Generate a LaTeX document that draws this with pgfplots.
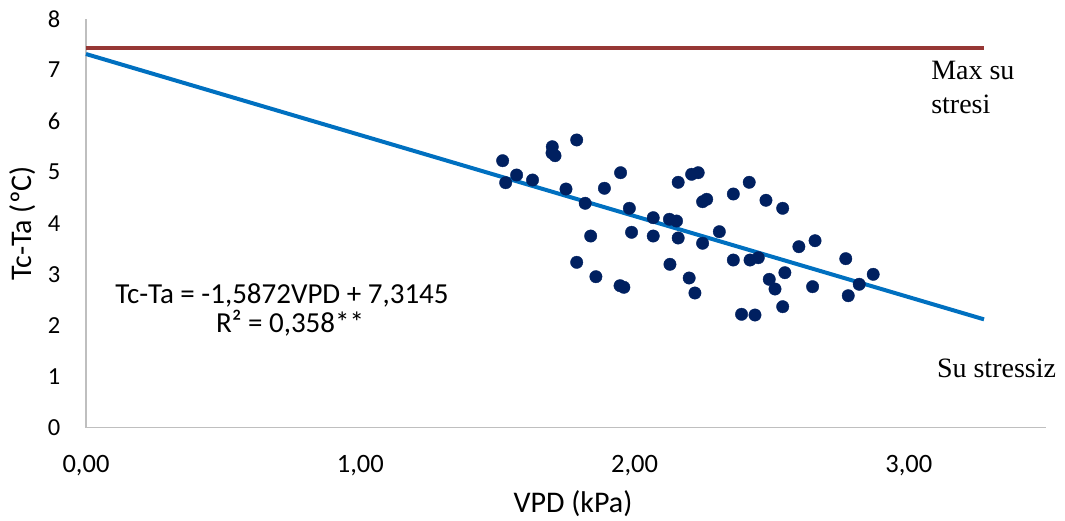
\documentclass[border=0pt]{standalone}
\usepackage{pgfplots}
\pgfplotsset{compat=1.18}
\usepackage{pgfplotstable}
\usepackage{fontspec}
\setmainfont{Carlito}
\newfontfamily\tnr{Liberation Serif}

\definecolor{dotnavy}{RGB}{0,32,96}
\definecolor{trendblue}{RGB}{0,112,192}
\definecolor{maxred}{RGB}{150,55,53}
\definecolor{axgray}{RGB}{191,191,191}

% canopy-air temperature difference against vapour pressure deficit
\pgfplotstableread{
vpd   dt
1.519 5.225
1.570 4.945
1.530 4.794
1.628 4.847
1.700 5.499
1.699 5.376
1.710 5.323
1.789 5.631
1.750 4.670
1.820 4.391
1.890 4.685
1.949 4.990
1.981 4.293
1.840 3.750
1.989 3.823
1.789 3.235
1.859 2.953
1.947 2.777
1.961 2.746
2.068 4.109
2.068 3.750
2.127 4.078
2.153 4.044
2.159 4.802
2.159 3.711
2.129 3.196
2.199 2.928
2.220 2.634
2.208 4.959
2.232 4.990
2.248 4.422
2.263 4.469
2.248 3.608
2.309 3.835
2.360 4.573
2.418 4.802
2.479 4.450
2.540 4.293
2.360 3.280
2.421 3.280
2.451 3.325
2.491 2.902
2.512 2.712
2.548 3.032
2.540 2.366
2.390 2.217
2.439 2.203
2.599 3.541
2.658 3.658
2.649 2.758
2.770 3.306
2.779 2.581
2.819 2.805
2.870 3.000
}\obsdata

% upper (non-transpiring) baseline and fitted lower baseline
\pgfplotstableread{
vpd   dt
0     7.43
3.274 7.43
}\maxline
\pgfplotstableread{
vpd   dt
0     7.3145
3.274 2.1180
}\fitline

\begin{document}
\begin{tikzpicture}
\begin{axis}[
  name=ax,
  scale only axis,
  width=960bp, height=408.5bp,
  xmin=0, xmax=3.5, ymin=0, ymax=8,
  xtick={0,1,2,3}, ytick={0,1,...,8},
  axis x line*=bottom, axis y line*=left,
  axis line style={axgray, line width=1.3bp},
  major tick length=0pt,
  clip=false,
  /pgf/number format/assume math mode=true,
  xticklabel style={/pgf/number format/fixed,
    /pgf/number format/fixed zerofill,
    /pgf/number format/precision=2,
    /pgf/number format/use comma,
    font=\fontsize{26.5bp}{30bp}\selectfont,
    anchor=base, yshift=-44.5bp},
  yticklabel style={font=\fontsize{24.5bp}{28bp}\selectfont,
    anchor=east, inner sep=0pt, xshift=-25.5bp},
  every axis x label/.style={at={(axis description cs:0.5,0)},
    anchor=base, yshift=-84.5bp, xshift=7bp,
    font=\fontsize{30bp}{36bp}\selectfont},
  every axis y label/.style={at={(axis description cs:0,0.5)},
    xshift=-54bp, rotate=90, anchor=base,
    font=\fontsize{30bp}{36bp}\selectfont},
  xlabel={VPD (kPa)},
  ylabel={Tc-Ta (ºC)},
]
\addplot[only marks, mark=*, mark size=6.2bp,
  mark options={fill=dotnavy, draw=dotnavy}] table[x=vpd, y=dt] {\obsdata};
\addplot[maxred, line width=4bp] table[x=vpd, y=dt] {\maxline};
\addplot[trendblue, line width=4bp] table[x=vpd, y=dt] {\fitline};

\node[anchor=base, font=\fontsize{29bp}{34bp}\selectfont]
  at (axis cs:0.7146,2.438) {Tc-Ta = -1,5872VPD + 7,3145};
\node[anchor=base, font=\fontsize{29bp}{34bp}\selectfont]
  at (axis cs:0.7437,1.851) {R² = 0,358**};

\node[anchor=base west, inner sep=0pt, font=\tnr\fontsize{28bp}{33bp}\selectfont]
  at (axis cs:3.081,6.806) {Max su};
\node[anchor=base west, inner sep=0pt, font=\tnr\fontsize{28bp}{33bp}\selectfont]
  at (axis cs:3.081,6.159) {stresi};
\node[anchor=base west, inner sep=0pt, font=\tnr\fontsize{28bp}{33bp}\selectfont]
  at (axis cs:3.102,0.989) {Su stressiz};
\end{axis}
\pgfresetboundingbox
\path[use as bounding box] (ax.south west) ++(-86bp,-93.5bp) rectangle ++(1065bp,521bp);
\end{tikzpicture}
\end{document}
